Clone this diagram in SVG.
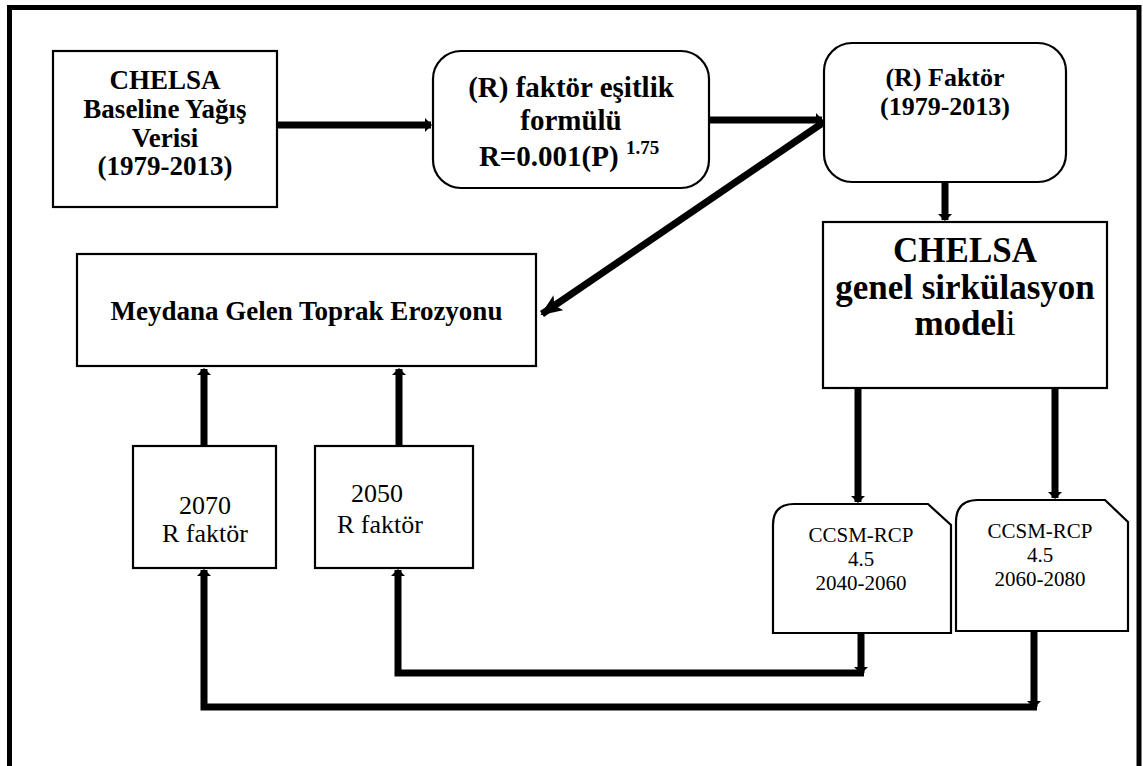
<svg xmlns="http://www.w3.org/2000/svg" width="1143" height="766" viewBox="0 0 1143 766">
<defs>
<style>
.box{fill:#fff;stroke:#000;stroke-width:2.2}
.t{font-family:"Liberation Serif","Times New Roman",serif;fill:#000;text-anchor:middle}
.b{font-weight:bold}
.con{fill:none;stroke:#000;stroke-width:7}
.frame{fill:none;stroke:#000;stroke-width:5}
</style>
<marker id="ah" markerUnits="userSpaceOnUse" markerWidth="12" markerHeight="16" refX="6" refY="7" orient="auto">
<path d="M0,0 L7,7 L0,14 z" fill="#000"/>
</marker>
<marker id="ahBig" markerUnits="userSpaceOnUse" markerWidth="24" markerHeight="20" refX="20" refY="9" orient="auto">
<path d="M0,0 L22,9 L0,18 L5,9 z" fill="#000"/>
</marker>
</defs>
<rect width="1143" height="766" fill="#fff"/>
<path class="frame" d="M9.5,766 V7.5 H1139 V766"/>

<g id="connectors">
<line class="con" x1="277" y1="125" x2="431" y2="125" marker-end="url(#ah)"/>
<line class="con" x1="709" y1="120" x2="822" y2="120" marker-end="url(#ah)"/>
<line class="con" x1="824" y1="122" x2="542" y2="314" stroke-width="6" marker-end="url(#ahBig)"/>
<line class="con" x1="945" y1="182" x2="945" y2="220" stroke-width="8" marker-end="url(#ah)"/>
<line class="con" x1="858" y1="388" x2="858" y2="502" stroke-width="8" marker-end="url(#ah)"/>
<line class="con" x1="1055" y1="388" x2="1055" y2="498" stroke-width="8" marker-end="url(#ah)"/>
<line class="con" x1="861" y1="633" x2="861" y2="673" marker-end="url(#ah)"/>
<path class="con" d="M864,673 H398 V570" marker-end="url(#ah)"/>
<line class="con" x1="1034" y1="631" x2="1034" y2="707" marker-end="url(#ah)"/>
<path class="con" d="M1037,707 H204 V570" marker-end="url(#ah)"/>
<line class="con" x1="204" y1="446" x2="204" y2="369" marker-end="url(#ah)"/>
<line class="con" x1="399" y1="446" x2="399" y2="369" marker-end="url(#ah)"/>
</g>

<g id="chelsa-baseline">
<rect class="box" x="53" y="51" width="224" height="156"/>
<text class="t b" font-size="27" x="165" y="89">CHELSA</text>
<text class="t b" font-size="27" x="165" y="118">Baseline Yağış</text>
<text class="t b" font-size="27" x="165" y="147">Verisi</text>
<text class="t b" font-size="27" x="165" y="175">(1979-2013)</text>
</g>

<g id="r-formula">
<rect class="box" x="433" y="51" width="276" height="137" rx="28" ry="28"/>
<text class="t b" font-size="29" x="571" y="97">(R) faktör eşitlik</text>
<text class="t b" font-size="29" x="571" y="130">formülü</text>
<text class="t b" font-size="29" x="569" y="166">R=0.001(P) <tspan font-size="19" dy="-12">1.75</tspan></text>
</g>

<g id="r-factor">
<rect class="box" x="824" y="43" width="242" height="139" rx="28" ry="28"/>
<text class="t b" font-size="26" x="945" y="86">(R) Faktör</text>
<text class="t b" font-size="26" x="945" y="115">(1979-2013)</text>
</g>

<g id="chelsa-gcm">
<rect class="box" x="823" y="222" width="284" height="166"/>
<text class="t b" font-size="35" x="965" y="262">CHELSA</text>
<text class="t b" font-size="35" x="965" y="299">genel sirkülasyon</text>
<text class="t" font-size="35" x="965" y="335"><tspan font-weight="bold">model</tspan>i</text>
</g>

<g id="erozyon">
<rect class="box" x="77" y="254" width="459" height="112"/>
<text class="t b" font-size="27" x="306.5" y="320">Meydana Gelen Toprak Erozyonu</text>
</g>

<g id="r2070">
<rect class="box" x="133" y="446" width="143" height="122"/>
<text class="t" font-size="26" x="205" y="514">2070</text>
<text class="t" font-size="26" x="205" y="542">R faktör</text>
</g>

<g id="r2050">
<rect class="box" x="315" y="446" width="158" height="122"/>
<text class="t" font-size="26" x="377" y="502">2050</text>
<text class="t" font-size="26" x="380" y="533">R faktör</text>
</g>

<g id="ccsm-2040">
<path class="box" d="M773,633 V525 Q773,504 794,504 H928 L951,525 V633 Z"/>
<text class="t" font-size="21" x="861" y="542">CCSM-RCP</text>
<text class="t" font-size="21" x="861" y="566">4.5</text>
<text class="t" font-size="21" x="861" y="590">2040-2060</text>
</g>

<g id="ccsm-2060">
<path class="box" d="M956,631 V522 Q956,500 978,500 H1105 L1128,522 V631 Z"/>
<text class="t" font-size="21" x="1040" y="538">CCSM-RCP</text>
<text class="t" font-size="21" x="1040" y="562">4.5</text>
<text class="t" font-size="21" x="1040" y="586">2060-2080</text>
</g>
</svg>
